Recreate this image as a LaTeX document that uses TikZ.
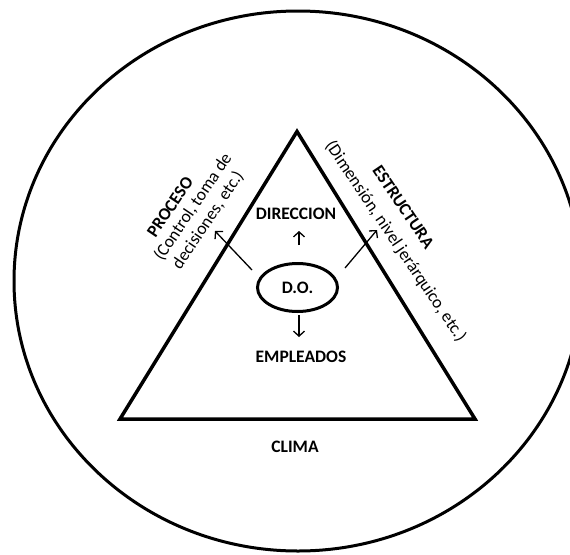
\documentclass[tikz,border=0pt]{standalone}
\usepackage{fontspec}
\setmainfont{Carlito}
\usetikzlibrary{shapes.geometric,arrows.meta}
\begin{document}
\begin{tikzpicture}[x=1pt,y=-1pt,
	every node/.style={font=\fontsize{17.5}{21}\selectfont, inner sep=1pt},
	titulo/.style={font=\fontsize{17.5}{21}\selectfont\bfseries},
	flecha/.style={line width=1.3pt, -{Straight Barb[length=5pt,width=11pt]}}]
	\clip (0,0) rectangle (570,554);
	% clima y piramide
	\draw [line width=3pt] (298,281) ellipse (284 and 270);
	\draw [line width=3.5pt] (297,131.5) -- (475,419) -- (120,419) -- cycle;
	\node [titulo] (clima) at (295,447) {CLIMA};
	% centro
	\node [titulo, draw, ellipse, line width=3pt, minimum width=80, minimum height=48] (DO) at (297.5,287.5) {D.O.};
	\node [titulo] (dir) at (296,214) {DIRECCION};
	\node [titulo] (emp) at (301,357) {EMPLEADOS};
	% lados
	\node [titulo, rotate=56] (proc) at (170,207) {PROCESO};
	\node [rotate=56] (procA) at (193,207) {(Control, toma de};
	\node [rotate=56] (procB) at (208,220) {decisiones, etc.)};
	\node [titulo, rotate=-56] (est) at (403.5,207) {ESTRUCTURA};
	\node [rotate=-56] (estA) at (395.5,241.5) {(Dimensión, nivel jerárquico, etc.)};
	% flechas
	\coordinate (dirA) at (299,245);
	\coordinate (dirB) at (299,231);
	\coordinate (empA) at (299,315);
	\coordinate (empB) at (299,337);
	\coordinate (procS) at (252,270);
	\coordinate (procT) at (215,231);
	\coordinate (estS) at (345,268);
	\coordinate (estT) at (377,230);
	\draw [flecha] (dirA) -- (dirB);
	\draw [flecha] (empA) -- (empB);
	\draw [flecha] (procS) -- (procT);
	\draw [flecha] (estS) -- (estT);
\end{tikzpicture}
\end{document}
